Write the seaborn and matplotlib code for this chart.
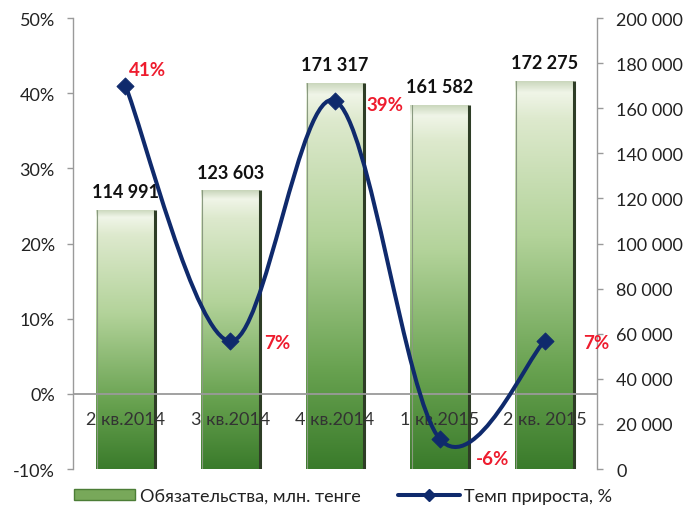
import numpy as np
import pandas as pd
import matplotlib
matplotlib.use("Agg")
import matplotlib.pyplot as plt
import seaborn as sns
from matplotlib.path import Path
from matplotlib.patches import PathPatch, Patch
from matplotlib.lines import Line2D
from matplotlib.colors import LinearSegmentedColormap
from matplotlib.ticker import FuncFormatter, MultipleLocator

# ---------------- data ----------------
categories = ["2 кв.2014", "3 кв.2014", "4 кв.2014", "1 кв.2015", "2 кв. 2015"]
liabilities = [114991, 123603, 171317, 161582, 172275]
growth = [41, 7, 39, -6, 7]
liab_labels = ["114 991", "123 603", "171 317", "161 582", "172 275"]
growth_labels = ["41%", "7%", "39%", "-6%", "7%"]
series_names = ["Обязательства, млн. тенге", "Темп прироста, %"]

# label offsets (points) for growth labels -- style only
growth_offsets = [(16, 12), (34, -1), (36, -3), (38, -14), (37, -1)]

NAVY = "#0f2a6c"
RED = "#ee1c2e"
GRAY = "#9a9a9a"
TXT = "#222222"

sns.set_theme(style="white")
plt.rcParams["font.family"] = ["Lato", "DejaVu Sans"]

fig = plt.figure(figsize=(6.86, 5.10), dpi=100)
ax = fig.add_axes([0.1064, 0.0784, 0.7638, 0.8843])

df = pd.DataFrame({"cat": categories, "val": liabilities})
sns.barplot(data=df, x="cat", y="val", ax=ax, width=0.56, color="#8dbb6a",
            saturation=1, edgecolor="none", zorder=2)

# gradient fill for bars
cmap = LinearSegmentedColormap.from_list(
    "g", [(0.0, "#3a7b2b"), (0.25, "#67a14f"), (0.6, "#b3d39a"),
          (0.9, "#dde9cd"), (0.97, "#f0f5e8"), (1.0, "#c9d6bb")])
grad = np.linspace(0, 1, 256).reshape(-1, 1)
for p in list(ax.patches):
    x0, w, h = p.get_x(), p.get_width(), p.get_height()
    im = ax.imshow(grad, extent=[x0, x0 + w, 0, h], origin="lower",
                   aspect="auto", cmap=cmap, zorder=2.1)
    im.set_clip_path(p)
    ax.plot([x0 + w, x0 + w], [0, h], color="#2e3d26", lw=2.2, zorder=2.2,
            solid_capstyle="butt")
    ax.plot([x0 + w * 0.02, x0 + w * 0.02], [0, h], color="#8a9a80", lw=0.8,
            zorder=2.2)

ax.set_xlim(-0.5, len(categories) - 0.5)
ax.set_ylim(0, 200000)
ax.set_xticks([])
ax.set_xlabel("")
ax.set_ylabel("")

for p, lbl in zip(ax.patches, liab_labels):
    ax.annotate(lbl, (p.get_x() + p.get_width() / 2, p.get_height()),
                xytext=(0, 7), textcoords="offset points", ha="center",
                va="bottom", fontsize=13, fontweight="bold", color="#111111")

# line axis (left)
ax2 = ax.twinx()

# configure bar axis (right side) after twinx
ax.yaxis.tick_right()
ax.yaxis.set_label_position("right")
ax.yaxis.set_major_locator(MultipleLocator(20000))
ax.yaxis.set_major_formatter(FuncFormatter(lambda v, _: f"{int(v):,}".replace(",", " ")))
for s in ["top", "bottom", "left"]:
    ax.spines[s].set_visible(False)
ax.spines["right"].set_visible(True)
ax.spines["right"].set_color(GRAY)
ax.spines["right"].set_linewidth(1.0)
ax.tick_params(axis="y", which="both", right=True, left=False, labelright=True,
               labelleft=False, length=4, width=1, color=GRAY, pad=10,
               labelsize=13, labelcolor=TXT, direction="out")

ax2.yaxis.tick_left()
ax2.yaxis.set_label_position("left")
ax2.set_ylim(-10, 50)
ax2.set_xlim(-0.5, len(categories) - 0.5)
ax2.yaxis.set_major_locator(MultipleLocator(10))
ax2.yaxis.set_major_formatter(FuncFormatter(lambda v, _: f"{int(round(v))}%"))
for s in ["top", "bottom", "right"]:
    ax2.spines[s].set_visible(False)
ax2.spines["left"].set_visible(True)
ax2.spines["left"].set_color(GRAY)
ax2.spines["left"].set_linewidth(1.0)
ax2.tick_params(axis="y", which="both", left=True, right=False, labelleft=True,
                labelright=False, length=4, width=1, color=GRAY, pad=9,
                labelsize=13, labelcolor=TXT, direction="out")
ax2.set_xticks([])

ax2.axhline(0, color=GRAY, lw=1.3, zorder=1)

# category labels on the zero line
for i, c in enumerate(categories):
    ax2.annotate(c, (i, 0), xytext=(0, -18), textcoords="offset points",
                 ha="center", va="center", fontsize=13, color="#333333", zorder=2)

# smooth curve (Excel-style Catmull-Rom in display space)
xs = np.arange(len(growth))
pts = ax2.transData.transform(np.column_stack([xs, growth]))
verts = [pts[0]]
codes = [Path.MOVETO]
n = len(pts)
for i in range(n - 1):
    p0 = pts[i - 1] if i > 0 else pts[i]
    p1 = pts[i]
    p2 = pts[i + 1]
    p3 = pts[i + 2] if i + 2 < n else pts[i + 1]
    c1 = p1 + (p2 - p0) / 6.0
    c2 = p2 - (p3 - p1) / 6.0
    verts += [c1, c2, p2]
    codes += [Path.CURVE4] * 3
verts = ax2.transData.inverted().transform(np.array(verts))
ax2.add_patch(PathPatch(Path(verts, codes), facecolor="none", edgecolor=NAVY,
                        lw=2.9, zorder=3, capstyle="round", joinstyle="round"))
sns.scatterplot(x=xs, y=growth, marker="D", s=75, color=NAVY, edgecolor=NAVY,
                ax=ax2, zorder=4, legend=False)
ax2.set_ylim(-10, 50)
ax2.set_xlim(-0.5, len(categories) - 0.5)

for i, (v, lbl, off) in enumerate(zip(growth, growth_labels, growth_offsets)):
    ax2.annotate(lbl, (i, v), xytext=off, textcoords="offset points",
                 ha="center", va="center", fontsize=13.5, fontweight="bold",
                 color=RED, zorder=5)

handles = [Patch(facecolor="#78a85a", edgecolor="#4c7d36", lw=1),
           Line2D([], [], color=NAVY, lw=2.9, marker="D", ms=6)]
fig.legend(handles, series_names, loc="lower center", bbox_to_anchor=(0.5, -0.022),
           ncol=2, frameon=False, fontsize=13, handlelength=3.4,
           handleheight=0.55, columnspacing=2.1, handletextpad=0.25,
           labelcolor=TXT)

fig.savefig("out.png", dpi=100)
